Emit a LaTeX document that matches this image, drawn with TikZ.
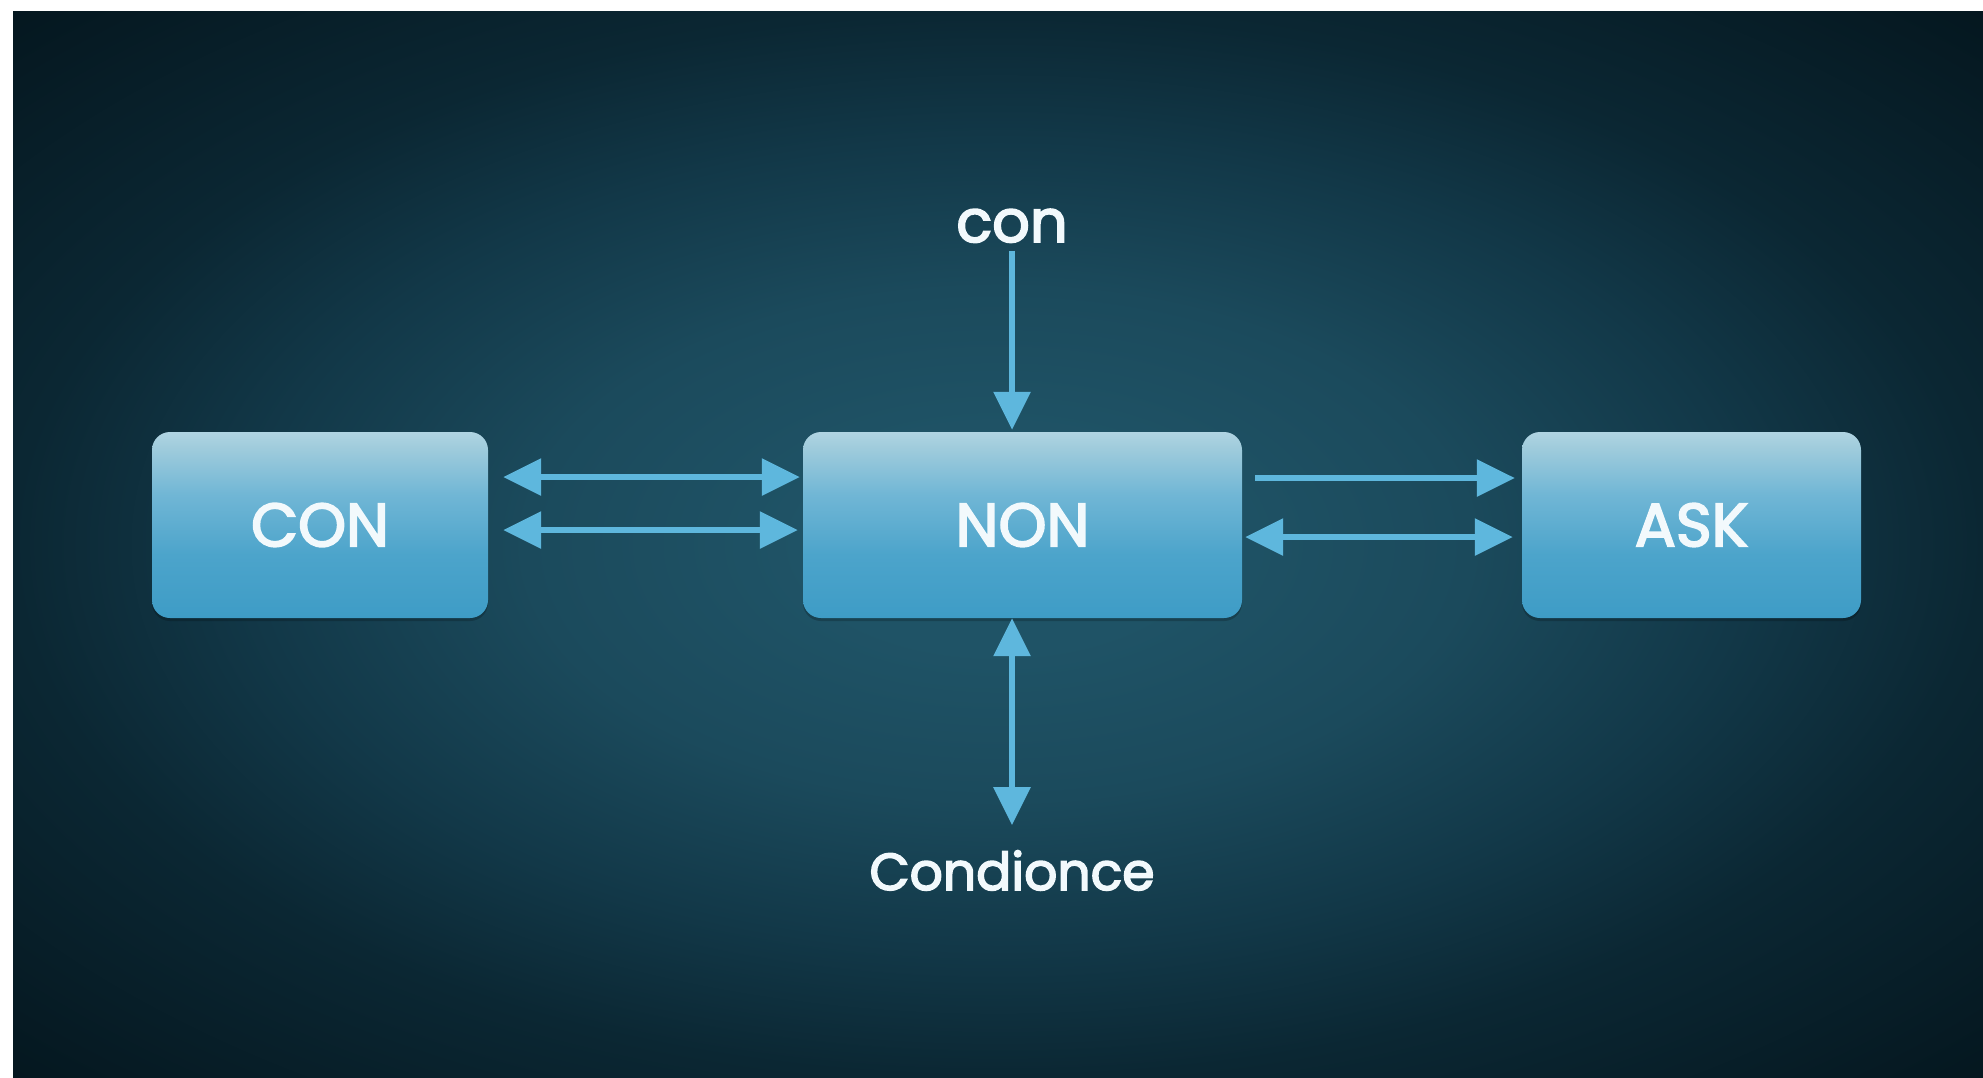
\documentclass[tikz,border=0pt]{standalone}
\usepackage{fontspec}
\setmainfont{Poppins}
\newfontfamily\medfont{Poppins}[FakeBold=3]
\usetikzlibrary{arrows.meta,shadows}
\definecolor{bgc}{HTML}{1F5366}
\definecolor{bga}{HTML}{1B4A5C}
\definecolor{bgm}{HTML}{123848}
\definecolor{bgd}{HTML}{0B2733}
\definecolor{bge}{HTML}{04161E}
\definecolor{boxtop}{HTML}{B0D4E2}
\definecolor{boxhi}{HTML}{A0CCDC}
\definecolor{boxmid}{HTML}{70B6D5}
\definecolor{boxlow}{HTML}{4CA4CB}
\definecolor{boxbot}{HTML}{3E9CC6}
\definecolor{arrowc}{HTML}{5EB7DD}
\definecolor{txt}{HTML}{F2F9FC}
\pgfdeclareradialshading{bgshade}{\pgfpoint{0bp}{0bp}}{color(0bp)=(bgc); color(5bp)=(bgc); color(12bp)=(bga); color(19bp)=(bgm); color(25bp)=(bgd); color(36bp)=(bge); color(50bp)=(bge)}
\pgfdeclareverticalshading{boxshade}{100bp}{color(0bp)=(boxbot); color(25bp)=(boxbot); color(42bp)=(boxlow); color(58bp)=(boxmid); color(71bp)=(boxhi); color(75bp)=(boxtop); color(100bp)=(boxtop)}
\tikzset{
  box/.style={shading=boxshade, rounded corners=18pt, minimum height=186pt,
    inner sep=0pt, text=txt, font=\medfont\fontsize{61}{70}\selectfont,
    drop shadow={shadow xshift=0pt, shadow yshift=-3pt, opacity=0.2, fill=black}},
  lbl/.style={text=txt, inner sep=0pt, anchor=base},
  link/.style={draw=arrowc, line width=6pt},
  tipr/.style={-{Triangle[length=38pt,width=36pt]}},
  tipb/.style={{Triangle[length=38pt,width=36pt]}-{Triangle[length=38pt,width=36pt]}}
}
\begin{document}
\begin{tikzpicture}[x=1pt,y=-1pt]
\useasboundingbox (0,0) rectangle (1983,1077);
\fill[white] (0,0) rectangle (1983,1077);
\shade[shading=bgshade] (13,11) rectangle (1983,1077);

\node[box, minimum width=336pt] (con) at (320,525) {CON};
\node[box, minimum width=439pt] (non) at (1022.5,525) {NON};
\node[box, minimum width=339pt] (ask) at (1691.5,525) {ASK};

\node[lbl, font=\medfont\fontsize{59}{68}\selectfont] (top) at (1012,242) {con};
\node[lbl, font=\medfont\fontsize{52}{60}\selectfont] (bot) at (1012,890) {Condionce};

% top arrow
\draw[link, tipr] ([yshift=-8pt]top.south) -- ([xshift=-10.5pt,yshift=2pt]non.north);
% bottom double arrow
\draw[link, tipb] ([xshift=-10.5pt]non.south) -- ([yshift=25pt]bot.north);
% left arrows
\draw[link, tipb] ([xshift=15pt,yshift=48pt]con.east) -- ([xshift=-3pt,yshift=48pt]non.west);
\draw[link, tipb] ([xshift=15pt,yshift=-5pt]con.east) -- ([xshift=-5pt,yshift=-5pt]non.west);
% right arrows
\draw[link, tipr] ([xshift=13pt,yshift=47pt]non.east) -- ([xshift=-7pt,yshift=47pt]ask.west);
\draw[link, tipb] ([xshift=3pt,yshift=-12pt]non.east) -- ([xshift=-9pt,yshift=-12pt]ask.west);
\end{tikzpicture}
\end{document}
